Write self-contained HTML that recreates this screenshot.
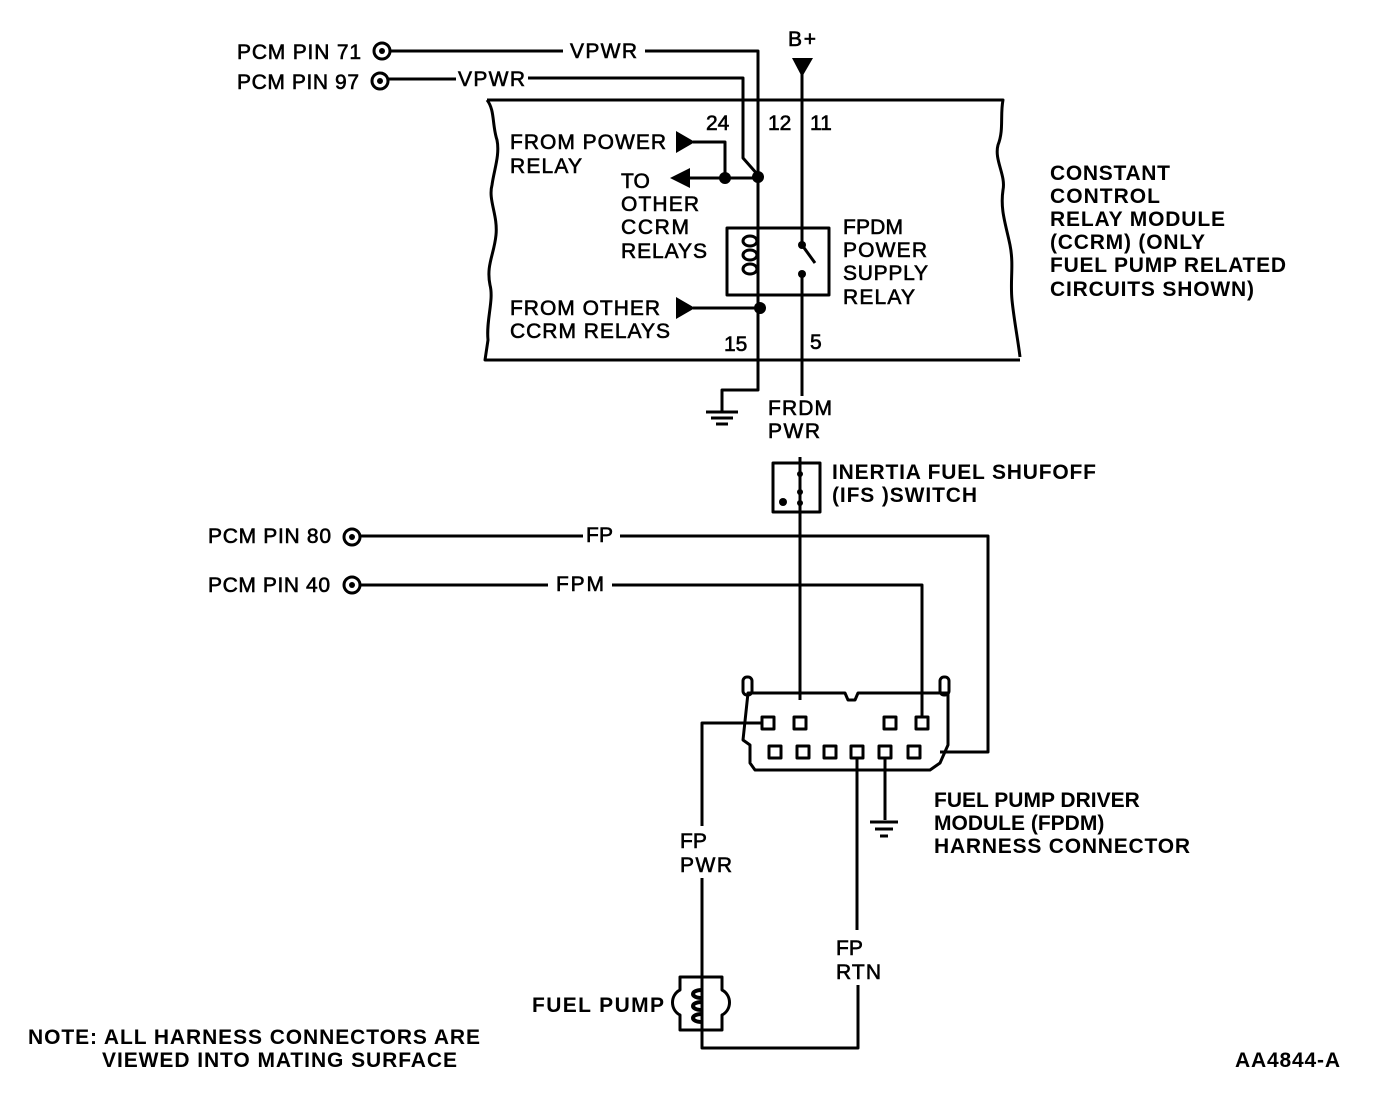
<!DOCTYPE html>
<html><head><style>
html,body{margin:0;padding:0;background:#fff;}
svg{display:block;}
text{font-family:"Liberation Sans",Arial,sans-serif;font-size:21px;fill:#000;}
.b{font-weight:bold;}
.n{stroke:#000;stroke-width:0.6px;}
</style></head><body>
<svg width="1376" height="1110" viewBox="0 0 1376 1110" xmlns="http://www.w3.org/2000/svg">
<g fill="none" stroke="#000" stroke-width="3" stroke-linejoin="round">
<circle cx="382" cy="51" r="8"/>
<polyline points="391,51 563,51"/>
<polyline points="645,51 758,51 758,390 722,390 722,412"/>
<circle cx="380" cy="81" r="8"/>
<polyline points="389,79 456,79"/>
<polyline points="528,78 743,78 743,158 758,175"/>
<path d="M487,100 L1003,100 C1000,115 1004,130 998,145 C994,160 1006,175 1003,190 C1000,210 1006,225 1010,245 C1014,265 1010,280 1012,300 C1014,320 1018,340 1020,357"/>
<path d="M487,100 C495,110 492,125 497,140 C500,155 494,170 492,185 C488,200 498,215 496,235 C494,255 486,265 490,285 C494,300 486,320 488,340 L485,360 L1020,360"/>
<polyline points="693,142 725,142 725,178"/>
<polyline points="758,178 688,178"/>
<rect x="727" y="228" width="102" height="67"/>
<ellipse cx="750" cy="241" rx="7" ry="5"/>
<ellipse cx="750" cy="255" rx="7" ry="5"/>
<ellipse cx="750" cy="269" rx="7" ry="5"/>
<polyline points="802,66 802,245 815,263"/>
<polyline points="802,274 802,396"/>
<polyline points="693,308 758,308"/>
<polyline points="800,457 800,700"/>
<rect x="773" y="463" width="47" height="49"/>
<line x1="706" y1="412" x2="738" y2="412"/>
<line x1="711" y1="418" x2="733" y2="418"/>
<line x1="716" y1="424" x2="728" y2="424"/>
<circle cx="352" cy="537" r="8"/>
<polyline points="361,536 583,536"/>
<polyline points="620,536 988,536 988,752 940,752"/>
<circle cx="352" cy="585" r="8"/>
<polyline points="361,585 548,585"/>
<polyline points="612,585 922,585 922,716"/>
<path d="M748,693 L845,693 L848,700 L855,700 L858,693 L948,693 L948,745 L940,763 L930,770 L755,770 L750,763 L750,745 L743,740 Z"/>
<rect x="743" y="677" width="9" height="18" rx="4"/>
<rect x="940" y="677" width="9" height="18" rx="4"/>
<rect x="762" y="717" width="12" height="12"/>
<rect x="794" y="717" width="12" height="12"/>
<rect x="884" y="717" width="12" height="12"/>
<rect x="916" y="717" width="12" height="12"/>
<rect x="769" y="746" width="12" height="12"/>
<rect x="797" y="746" width="12" height="12"/>
<rect x="824" y="746" width="12" height="12"/>
<rect x="851" y="746" width="12" height="12"/>
<rect x="879" y="746" width="12" height="12"/>
<rect x="908" y="746" width="12" height="12"/>
<polyline points="762,723 702,723 702,826"/>
<polyline points="702,878 702,1048 858,1048 858,985"/>
<polyline points="857,758 857,930"/>
<polyline points="885,758 885,820"/>
<line x1="870" y1="822" x2="898" y2="822"/>
<line x1="875" y1="829" x2="893" y2="829"/>
<line x1="880" y1="836" x2="888" y2="836"/>
<path d="M680,977 L722,977 L722,990 C732,995 732,1010 722,1015 L722,1030 L680,1030 L680,1015 C670,1010 670,995 680,990 Z"/>
<path d="M702,990 c-12,0 -12,8 0,8 M702,1002 c-12,0 -12,8 0,8 M702,1014 c-12,0 -12,8 0,8" stroke-width="4"/>
</g>
<g fill="#000">
<polygon points="792,58 813,58 802,77"/>
<polygon points="676,131 676,153 695,142"/>
<polygon points="676,297 676,319 695,308"/>
<polygon points="670,178 690,168 690,188"/>
<circle cx="758" cy="177" r="6"/><circle cx="725" cy="178" r="6"/><circle cx="760" cy="308" r="6"/>
<circle cx="382" cy="51" r="3"/><circle cx="380" cy="81" r="3"/><circle cx="352" cy="537" r="3"/><circle cx="352" cy="585" r="3"/>
<circle cx="802" cy="245" r="4"/><circle cx="802" cy="274" r="4"/>
<circle cx="800" cy="474" r="3"/><circle cx="800" cy="492" r="3"/><circle cx="800" cy="503" r="3"/><circle cx="783" cy="502" r="4"/>
</g>
<g class="n">
<text x="237" y="59" textLength="124">PCM PIN 71</text>
<text x="237" y="89" textLength="122">PCM PIN 97</text>
<text x="570" y="58" textLength="67">VPWR</text>
<text x="458" y="86" textLength="67">VPWR</text>
<text x="788" y="46" textLength="28">B+</text>
<text x="706" y="130">24</text>
<text x="768" y="130">12</text>
<text x="810" y="130">11</text>
<text x="510" y="149" textLength="156">FROM POWER</text>
<text x="510" y="173" textLength="72">RELAY</text>
<text x="621" y="188">TO</text>
<text x="621" y="211" textLength="78">OTHER</text>
<text x="621" y="234" textLength="68">CCRM</text>
<text x="621" y="258" textLength="86">RELAYS</text>
<text x="843" y="234" textLength="60">FPDM</text>
<text x="843" y="257" textLength="84">POWER</text>
<text x="843" y="280" textLength="85">SUPPLY</text>
<text x="843" y="304" textLength="72">RELAY</text>
<text x="510" y="315" textLength="150">FROM OTHER</text>
<text x="510" y="338" textLength="160">CCRM RELAYS</text>
<text x="724" y="351">15</text>
<text x="810" y="349">5</text>
<text x="768" y="415" textLength="64">FRDM</text>
<text x="768" y="438" textLength="52">PWR</text>
<text x="208" y="543" textLength="123">PCM PIN 80</text>
<text x="208" y="592" textLength="122">PCM PIN 40</text>
<text x="586" y="542" textLength="27">FP</text>
<text x="556" y="591" textLength="48">FPM</text>
<text x="680" y="848">FP</text>
<text x="680" y="872" textLength="52">PWR</text>
<text x="836" y="955">FP</text>
<text x="836" y="979" textLength="45">RTN</text>
</g>
<g class="b">
<text x="1050" y="180" textLength="120">CONSTANT</text>
<text x="1050" y="203" textLength="110">CONTROL</text>
<text x="1050" y="226" textLength="175">RELAY MODULE</text>
<text x="1050" y="249" textLength="155">(CCRM) (ONLY</text>
<text x="1050" y="272" textLength="236">FUEL PUMP RELATED</text>
<text x="1050" y="296" textLength="204">CIRCUITS SHOWN)</text>
<text x="832" y="479" textLength="264">INERTIA FUEL SHUFOFF</text>
<text x="832" y="502" textLength="145">(IFS )SWITCH</text>
<text x="934" y="807">FUEL PUMP DRIVER</text>
<text x="934" y="830">MODULE (FPDM)</text>
<text x="934" y="853" textLength="256">HARNESS CONNECTOR</text>
<text x="532" y="1012" textLength="132">FUEL PUMP</text>
<text x="28" y="1044" textLength="452">NOTE: ALL HARNESS CONNECTORS ARE</text>
<text x="102" y="1067" textLength="355">VIEWED INTO MATING SURFACE</text>
<text x="1235" y="1067" textLength="105">AA4844-A</text>
</g>
</svg>
</body></html>
